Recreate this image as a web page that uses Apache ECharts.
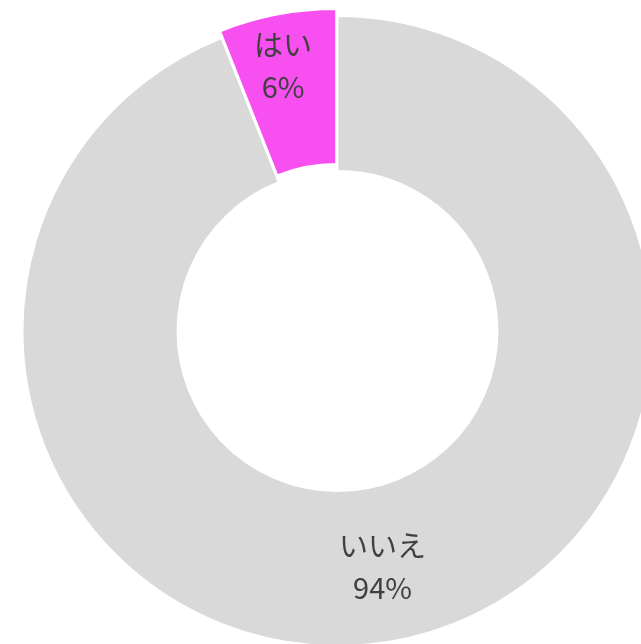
<!DOCTYPE html>
<html>
<head>
<meta charset="utf-8">
<script src="https://cdn.jsdelivr.net/npm/echarts@6/dist/echarts.min.js"></script>
<style>
  html, body { margin: 0; padding: 0; background: #fff; }
  #main { width: 641px; height: 644px; }
</style>
</head>
<body>
<div id="main"></div>
<script>
// 回答データ
var answerNames = ['いいえ', 'はい'];
var answerValues = [94, 6];
var answerColors = ['#d9d9d9', '#f74ff0'];

var myChart = echarts.init(document.getElementById('main'));

var pieData = answerNames.map(function (name, i) {
    return {
        name: name,
        value: answerValues[i],
        selected: name === 'はい',
        itemStyle: { color: answerColors[i] }
    };
});

var option = {
    backgroundColor: '#fff',
    animation: false,
    series: [{
        type: 'pie',
        center: [337.5, 331],
        radius: [160, 315],
        startAngle: 90,
        clockwise: true,
        selectedMode: 'single',
        selectedOffset: 7,
        itemStyle: {
            borderColor: '#fff',
            borderWidth: 2
        },
        label: {
            show: true,
            position: 'inner',
            formatter: '{b}\n{d}%',
            color: '#404040',
            fontFamily: 'Noto Sans CJK JP',
            fontSize: 29,
            lineHeight: 42
        },
        // はい のラベルだけ少し上へ
        labelLayout: function (params) {
            if (params.dataIndex === 1) {
                return { dx: -8, dy: -22 };
            }
            return {};
        },
        labelLine: { show: false },
        emphasis: { disabled: true },
        select: { itemStyle: { color: answerColors[1] } },
        data: pieData
    }]
};

myChart.setOption(option);
</script>
</body>
</html>
